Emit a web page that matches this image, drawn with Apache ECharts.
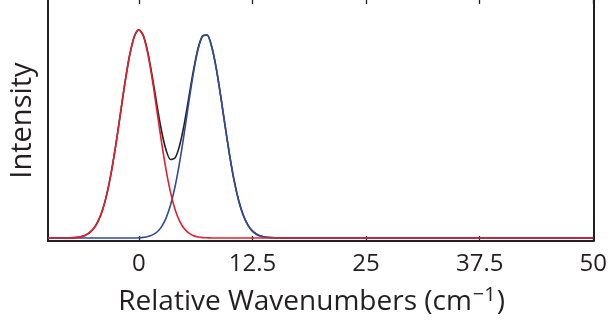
<!DOCTYPE html>
<html>
<head>
<meta charset="utf-8">
<script src="https://cdn.jsdelivr.net/npm/echarts@6/dist/echarts.min.js"></script>
<style>
  html, body { margin: 0; padding: 0; background: #fff; }
  #chart { width: 610px; height: 329px; }
</style>
</head>
<body>
<div id="chart"></div>
<script>
// x positions (cm^-1) and intensities
var xs = [-10, -8, -7, -6.5, -6, -5.5, -5, -4.5, -4, -3.5, -3, -2.5, -2, -1.5, -1, -0.5,
    0, 0.5, 1, 1.5, 2, 2.5, 3, 3.5, 4, 4.5, 5, 5.5, 6, 6.5, 7, 7.5, 8, 8.5, 9, 9.5,
    10, 10.5, 11, 11.5, 12, 12.5, 13, 13.5, 14, 15, 16, 18, 20, 25, 30, 35, 40, 45, 50];
var peakA = [0, 0, 0.002, 0.005, 0.011, 0.023, 0.044, 0.080, 0.135, 0.216, 0.325, 0.458, 0.607, 0.755, 0.882, 0.969,
    1.000, 0.969, 0.882, 0.755, 0.607, 0.458, 0.325, 0.216, 0.135, 0.080, 0.044, 0.023, 0.011, 0.005, 0.002, 0.001, 0, 0, 0, 0,
    0, 0, 0, 0, 0, 0, 0, 0, 0, 0, 0, 0, 0, 0, 0, 0, 0, 0, 0];
var peakB = [0, 0, 0, 0, 0, 0, 0, 0, 0, 0, 0, 0, 0, 0, 0, 0,
    0.001, 0.003, 0.007, 0.015, 0.029, 0.055, 0.097, 0.161, 0.251, 0.368, 0.506, 0.654, 0.793, 0.905, 0.969, 0.975, 0.922, 0.819, 0.683, 0.535,
    0.394, 0.272, 0.177, 0.108, 0.062, 0.033, 0.017, 0.008, 0.004, 0.001, 0, 0, 0, 0, 0, 0, 0, 0, 0];
var total = [0, 0, 0.002, 0.005, 0.011, 0.023, 0.044, 0.080, 0.135, 0.216, 0.325, 0.458, 0.607, 0.755, 0.882, 0.969,
    1.001, 0.972, 0.889, 0.770, 0.636, 0.513, 0.422, 0.377, 0.386, 0.448, 0.550, 0.677, 0.804, 0.910, 0.971, 0.976, 0.922, 0.819, 0.683, 0.535,
    0.394, 0.272, 0.177, 0.108, 0.062, 0.033, 0.017, 0.008, 0.004, 0.001, 0, 0, 0, 0, 0, 0, 0, 0, 0];
var tickVals = [0, 12.5, 25, 37.5, 50];

var chart = echarts.init(document.getElementById('chart'));
var ink = '#231f20';
var font = 'Open Sans';

function pairs(ys) {
    return xs.map(function(x, i) { return [x, ys[i]]; });
}

function line(name, ys, color) {
    return {
        name: name,
        type: 'line',
        data: pairs(ys),
        smooth: 0.3,
        symbol: 'none',
        lineStyle: { color: color, width: 1.6 },
        animation: false
    };
}

var frame = { show: true, onZero: false, lineStyle: { color: ink, width: 2 } };

var option = {
    backgroundColor: '#fff',
    grid: { left: 47, right: 15, top: 0, bottom: 88, containLabel: false },
    xAxis: [{
        type: 'value',
        min: -10,
        max: 50,
        name: '{a|Relative Wavenumbers (cm}{s|\u22121}{a|)}',
        nameLocation: 'middle',
        nameGap: 44,
        nameTextStyle: {
            padding: [0, 18, 0, 0],
            rich: {
                a: { fontFamily: font, fontSize: 28, color: ink },
                s: { fontFamily: font, fontSize: 20, color: ink, verticalAlign: 'top', padding: [0, 1, 14, 1] }
            }
        },
        axisLine: frame,
        axisTick: { show: true, inside: true, length: 5, customValues: tickVals, lineStyle: { color: ink, width: 1.3 } },
        axisLabel: { customValues: tickVals, margin: 11, fontFamily: font, fontSize: 24, color: ink },
        splitLine: { show: false }
    }, {
        // the top edge of the frame lies just above the picture: only its ticks show
        type: 'value',
        position: 'top',
        min: -10,
        max: 50,
        axisLine: { show: false, onZero: false },
        axisTick: { show: true, inside: true, length: 4, customValues: tickVals, lineStyle: { color: ink, width: 1.3 } },
        axisLabel: { show: false },
        splitLine: { show: false }
    }],
    yAxis: [{
        type: 'value',
        min: -0.0144,
        max: 1.144,
        name: 'Intensity',
        nameLocation: 'middle',
        nameGap: 11,
        nameTextStyle: { fontFamily: font, fontSize: 29, color: ink },
        axisLine: frame,
        axisTick: { show: false },
        axisLabel: { show: false },
        splitLine: { show: false }
    }, {
        type: 'value',
        position: 'right',
        min: -0.0144,
        max: 1.144,
        axisLine: frame,
        axisTick: { show: false },
        axisLabel: { show: false },
        splitLine: { show: false }
    }],
    series: [
        line('Sum', total, ink),
        line('Peak 2', peakB, '#2f4b9c'),
        line('Peak 1', peakA, '#e2202d')
    ]
};

chart.setOption(option);
</script>
</body>
</html>
